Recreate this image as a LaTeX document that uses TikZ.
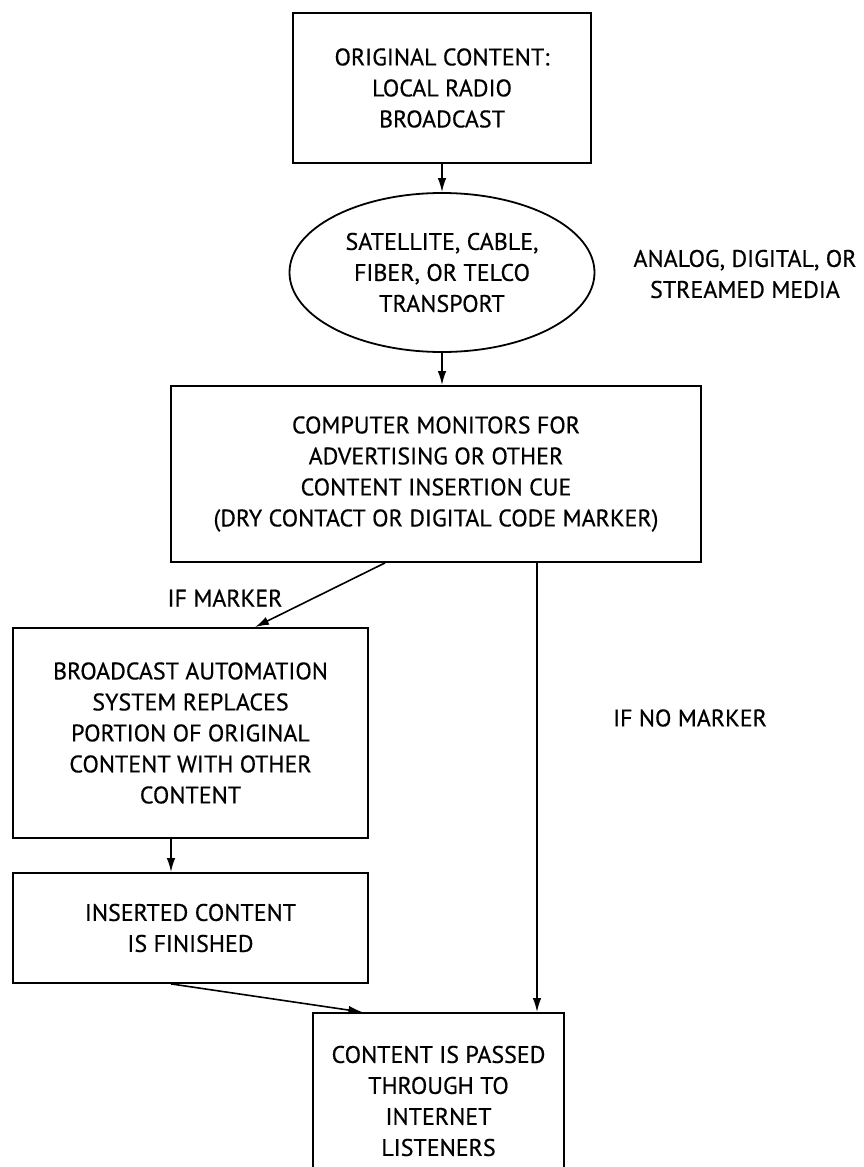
\documentclass[tikz,border=0pt]{standalone}
\usepackage{fontspec}
\newfontfamily\diafont[FakeBold=0.5]{PT Sans}
\usetikzlibrary{arrows.meta,shapes.geometric}
\begin{document}
\begin{tikzpicture}[x=1pt,y=-1pt,
  every node/.style={font=\diafont\fontsize{24}{31}\selectfont, align=center, inner sep=0pt},
  box/.style={draw, line width=1.8pt, rectangle},
  oval/.style={draw, line width=1.8pt, ellipse},
  lbl/.style={},
  arr/.style={line width=1.6pt, -{Latex[length=14pt,width=8.5pt]}}]
\clip (0,0) rectangle (864,1167);
\fill[white] (0,0) rectangle (864,1167);
\node[box, minimum width=298pt, minimum height=150pt] (b1) at (442,88) {ORIGINAL CONTENT:\\LOCAL RADIO\\BROADCAST};
\node[oval, minimum width=305pt, minimum height=159pt] (ell) at (442,272.5) {SATELLITE, CABLE,\\FIBER, OR TELCO\\TRANSPORT};
\node[lbl] (media) at (745,274) {ANALOG, DIGITAL, OR\\STREAMED MEDIA};
\node[box, minimum width=530pt, minimum height=176pt] (b3) at (436,474) {COMPUTER MONITORS FOR\\ADVERTISING OR OTHER\\CONTENT INSERTION CUE\\(DRY CONTACT OR DIGITAL CODE MARKER)};
\node[lbl] (ifm) at (225,598) {IF MARKER};
\node[box, minimum width=355pt, minimum height=210pt] (b4) at (190.5,733) {BROADCAST AUTOMATION\\SYSTEM REPLACES\\PORTION OF ORIGINAL\\CONTENT WITH OTHER\\CONTENT};
\node[box, minimum width=355pt, minimum height=110pt] (b5) at (190.5,928) {INSERTED CONTENT\\IS FINISHED};
\node[lbl] (ifnm) at (690,718) {IF NO MARKER};
\node[box, minimum width=251pt, minimum height=176pt] (b6) at (438.5,1101) {CONTENT IS PASSED\\THROUGH TO\\INTERNET\\LISTENERS};
\draw[arr] (b1.south) -- (ell.north);
\draw[arr] (ell.south) -- (ell.south |- b3.north);
\draw[arr] ([xshift=-51pt]b3.south) -- ([xshift=64.5pt]b4.north);
\draw[arr] ([xshift=-19.5pt]b4.south) -- ([xshift=-19.5pt]b5.north);
\draw[arr] ([xshift=-19.5pt]b5.south) -- ([xshift=-76pt]b6.north);
\draw[arr] ([xshift=101pt]b3.south) -- ([xshift=98.5pt]b6.north);
\end{tikzpicture}
\end{document}
